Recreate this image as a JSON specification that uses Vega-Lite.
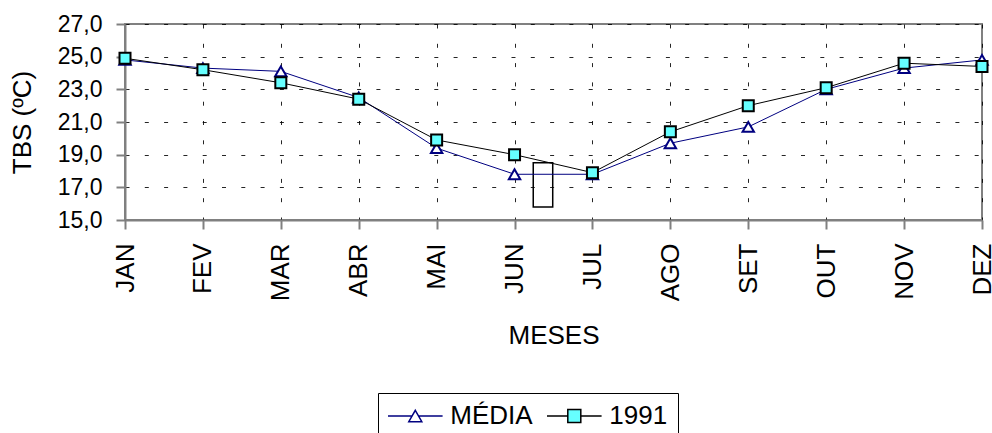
{
  "$schema": "https://vega.github.io/schema/vega-lite/v6.json",
  "width": 857,
  "height": 196,
  "autosize": {"type": "none"},
  "padding": {"left": 125, "top": 24, "right": 10, "bottom": 213},
  "background": "white",
  "config": {
    "font": "Liberation Sans",
    "view": {"stroke": "#808080", "strokeWidth": 2},
    "axis": {
      "labelFont": "Liberation Sans",
      "titleFont": "Liberation Sans",
      "labelColor": "black",
      "titleColor": "black",
      "titleFontWeight": "normal",
      "domainColor": "#808080",
      "domainWidth": 2,
      "tickColor": "#808080",
      "tickWidth": 2,
      "tickSize": 9,
      "gridColor": "black",
      "gridWidth": 1,
      "gridDash": [4, 15.3],
      "gridOpacity": 0.85,
      "labelFlush": false,
      "labelOverlap": false,
      "labelBound": false
    },
    "legend": {
      "orient": "none",
      "legendX": 253,
      "legendY": 369,
      "direction": "horizontal",
      "strokeColor": "black",
      "fillColor": "white",
      "padding": 10,
      "columnPadding": 11,
      "symbolSize": 169,
      "symbolStrokeWidth": 1.5,
      "symbolOpacity": 1,
      "symbolOffset": 14.3,
      "labelOffset": 22,
      "labelFont": "Liberation Sans",
      "labelFontSize": 26,
      "labelColor": "black"
    }
  },
  "datasets": {
    "tbs": [
      {"idx": 0, "mes": "JAN", "serie": "MÉDIA", "tbs": 24.8},
      {"idx": 1, "mes": "FEV", "serie": "MÉDIA", "tbs": 24.3},
      {"idx": 2, "mes": "MAR", "serie": "MÉDIA", "tbs": 24.1},
      {"idx": 3, "mes": "ABR", "serie": "MÉDIA", "tbs": 22.5},
      {"idx": 4, "mes": "MAI", "serie": "MÉDIA", "tbs": 19.4},
      {"idx": 5, "mes": "JUN", "serie": "MÉDIA", "tbs": 17.8},
      {"idx": 6, "mes": "JUL", "serie": "MÉDIA", "tbs": 17.8},
      {"idx": 7, "mes": "AGO", "serie": "MÉDIA", "tbs": 19.7},
      {"idx": 8, "mes": "SET", "serie": "MÉDIA", "tbs": 20.7},
      {"idx": 9, "mes": "OUT", "serie": "MÉDIA", "tbs": 23.0},
      {"idx": 10, "mes": "NOV", "serie": "MÉDIA", "tbs": 24.3},
      {"idx": 11, "mes": "DEZ", "serie": "MÉDIA", "tbs": 24.8},
      {"idx": 0, "mes": "JAN", "serie": "1991", "tbs": 24.9},
      {"idx": 1, "mes": "FEV", "serie": "1991", "tbs": 24.2},
      {"idx": 2, "mes": "MAR", "serie": "1991", "tbs": 23.4},
      {"idx": 3, "mes": "ABR", "serie": "1991", "tbs": 22.4},
      {"idx": 4, "mes": "MAI", "serie": "1991", "tbs": 19.9},
      {"idx": 5, "mes": "JUN", "serie": "1991", "tbs": 19.0},
      {"idx": 6, "mes": "JUL", "serie": "1991", "tbs": 17.9},
      {"idx": 7, "mes": "AGO", "serie": "1991", "tbs": 20.4},
      {"idx": 8, "mes": "SET", "serie": "1991", "tbs": 22.0},
      {"idx": 9, "mes": "OUT", "serie": "1991", "tbs": 23.1},
      {"idx": 10, "mes": "NOV", "serie": "1991", "tbs": 24.6},
      {"idx": 11, "mes": "DEZ", "serie": "1991", "tbs": 24.4}
    ],
    "caixa": [
      {"x0": 5.24, "x1": 5.49, "y0": 15.8, "y1": 18.5}
    ]
  },
  "layer": [
    {
      "data": {"name": "caixa"},
      "mark": {"type": "rect", "fill": null, "stroke": "black", "strokeWidth": 1.5},
      "encoding": {
        "x": {"field": "x0", "type": "quantitative", "title": "MESES"},
        "x2": {"field": "x1"},
        "y": {"field": "y0", "type": "quantitative", "title": "TBS (ºC)"},
        "y2": {"field": "y1"}
      }
    },
    {
      "data": {"name": "tbs"},
      "transform": [{"filter": "datum.serie === 'MÉDIA'"}],
      "mark": {"type": "line", "color": "#000080", "strokeWidth": 1},
      "encoding": {
        "x": {"field": "idx", "type": "quantitative", "title": "MESES"},
        "y": {"field": "tbs", "type": "quantitative", "title": "TBS (ºC)"}
      }
    },
    {
      "data": {"name": "tbs"},
      "transform": [{"filter": "datum.serie === 'MÉDIA'"}],
      "mark": {"type": "point", "shape": "triangle-up", "filled": true, "fill": "white", "stroke": "#000080", "size": 130, "strokeWidth": 2, "opacity": 1},
      "encoding": {
        "x": {"field": "idx", "type": "quantitative", "title": "MESES"},
        "y": {"field": "tbs", "type": "quantitative", "title": "TBS (ºC)"}
      }
    },
    {
      "data": {"name": "tbs"},
      "transform": [{"filter": "datum.serie === '1991'"}],
      "mark": {"type": "line", "color": "black", "strokeWidth": 1},
      "encoding": {
        "x": {"field": "idx", "type": "quantitative", "title": "MESES"},
        "y": {"field": "tbs", "type": "quantitative", "title": "TBS (ºC)"}
      }
    },
    {
      "data": {"name": "tbs"},
      "transform": [{"filter": "datum.serie === '1991'"}],
      "mark": {"type": "point", "shape": "square", "filled": true, "fill": "#66ffff", "stroke": "black", "size": 121, "strokeWidth": 2, "opacity": 1},
      "encoding": {
        "x": {"field": "idx", "type": "quantitative", "title": "MESES"},
        "y": {"field": "tbs", "type": "quantitative", "title": "TBS (ºC)"}
      }
    },
    {
      "data": {"name": "tbs"},
      "mark": {"type": "point", "filled": true, "strokeWidth": 1.5, "opacity": 0},
      "encoding": {
        "x": {
          "field": "idx",
          "type": "quantitative",
          "title": "MESES",
          "scale": {"domain": [0, 11], "nice": false, "zero": false},
          "axis": {
            "values": [0, 1, 2, 3, 4, 5, 6, 7, 8, 9, 10, 11],
            "tickCount": 24,
            "labelExpr": "['JAN','FEV','MAR','ABR','MAI','JUN','JUL','AGO','SET','OUT','NOV','DEZ'][datum.value]",
            "labelAngle": -90,
            "labelFontSize": 26,
            "labelPadding": 14,
            "titleFontSize": 26,
            "titlePadding": 22
          }
        },
        "y": {
          "field": "tbs",
          "type": "quantitative",
          "title": "TBS (ºC)",
          "scale": {"domain": [15, 27], "nice": false, "zero": false},
          "axis": {
            "values": [15, 17, 19, 21, 23, 25, 27],
            "tickCount": 14,
            "labelExpr": "replace(format(datum.value, '.1f'), '.', ',')",
            "labelFontSize": 23,
            "labelPadding": 14,
            "titleFontSize": 26,
            "titlePadding": 22
          }
        },
        "shape": {
          "field": "serie",
          "type": "nominal",
          "scale": {
            "domain": ["MÉDIA", "1991"],
            "range": [
              "M-4.2,0H-0.5M0.5,0H4.2M0,-0.866L1,0.866L-1,0.866Z",
              "M-4.2,0H-1M1,0H4.2M-1,-1H1V1H-1Z"
            ]
          },
          "legend": {"title": null}
        },
        "stroke": {
          "field": "serie",
          "type": "nominal",
          "scale": {"domain": ["MÉDIA", "1991"], "range": ["#000080", "black"]},
          "legend": {"title": null}
        },
        "fill": {
          "field": "serie",
          "type": "nominal",
          "scale": {"domain": ["MÉDIA", "1991"], "range": ["white", "#66ffff"]},
          "legend": {"title": null}
        }
      }
    }
  ]
}
